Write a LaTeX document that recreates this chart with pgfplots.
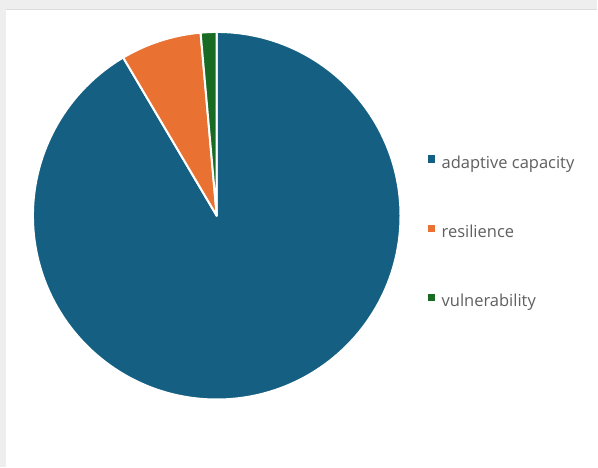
\documentclass[border=0pt]{standalone}
\usepackage{pgfplots}
\pgfplotsset{compat=1.18}
\usepackage{pgfplotstable}
\usepackage{fontspec}
\setmainfont{Open Sans}
\definecolor{cblue}{HTML}{156082}
\definecolor{corange}{HTML}{E97132}
\definecolor{cgreen}{HTML}{196B24}
\definecolor{ctext}{HTML}{5F5F5F}
\pgfplotstableread{
label value
adaptive 91.5
resilience 7.1
vulnerability 1.4
}\piedata
\begin{document}
\begin{tikzpicture}
\pgfplotstablegetelem{0}{value}\of\piedata \let\vA\pgfplotsretval
\pgfplotstablegetelem{1}{value}\of\piedata \let\vB\pgfplotsretval
\pgfplotstablegetelem{2}{value}\of\piedata \let\vC\pgfplotsretval
\pgfmathsetmacro\aB{90-3.6*\vA}
\pgfmathsetmacro\aC{\aB-3.6*\vB}
\pgfmathsetmacro\aD{\aC-3.6*\vC}
\begin{axis}[
  x=1bp, y=1bp, xmin=0, xmax=598, ymin=0, ymax=468,
  hide axis, clip=false,
  legend cell align=left,
  legend style={draw=none, fill=none, inner sep=0pt,
    at={(axis description cs:0.7157,0.6685)}, anchor=north west,
    font=\fontsize{16.5bp}{19bp}\selectfont, text=ctext,
    row sep=53.5bp, column sep=0pt,
    nodes={inner sep=0pt, text height=12bp, text depth=3bp}},
  legend image code/.code={\fill[#1, draw=none] (0bp,1bp) rectangle (7.5bp,8.5bp); \path[draw=none, fill=none] (0bp,0bp) rectangle (14bp,1bp);},
]
\fill[gray!13] (axis cs:0,0) rectangle (axis cs:598,468);
\fill[white] (axis cs:6,0) rectangle (axis cs:598,458);
\draw[gray!28, line width=1.5bp] (axis cs:6,458.6) -- (axis cs:598,458.6);
\fill[cblue, draw=white, line width=2bp, line join=round] (axis cs:217,252) -- ++(90:184bp) arc[start angle=90, end angle=\aB, radius=184bp] -- cycle;
\fill[corange, draw=white, line width=2bp, line join=round] (axis cs:217,252) -- ++(\aB:184bp) arc[start angle=\aB, end angle=\aC, radius=184bp] -- cycle;
\fill[cgreen, draw=white, line width=2bp, line join=round] (axis cs:217,252) -- ++(\aC:184bp) arc[start angle=\aC, end angle=\aD, radius=184bp] -- cycle;
\addlegendimage{fill=cblue}
\addlegendentry{adaptive capacity}
\addlegendimage{fill=corange}
\addlegendentry{resilience}
\addlegendimage{fill=cgreen}
\addlegendentry{vulnerability}
\end{axis}
\end{tikzpicture}
\end{document}
